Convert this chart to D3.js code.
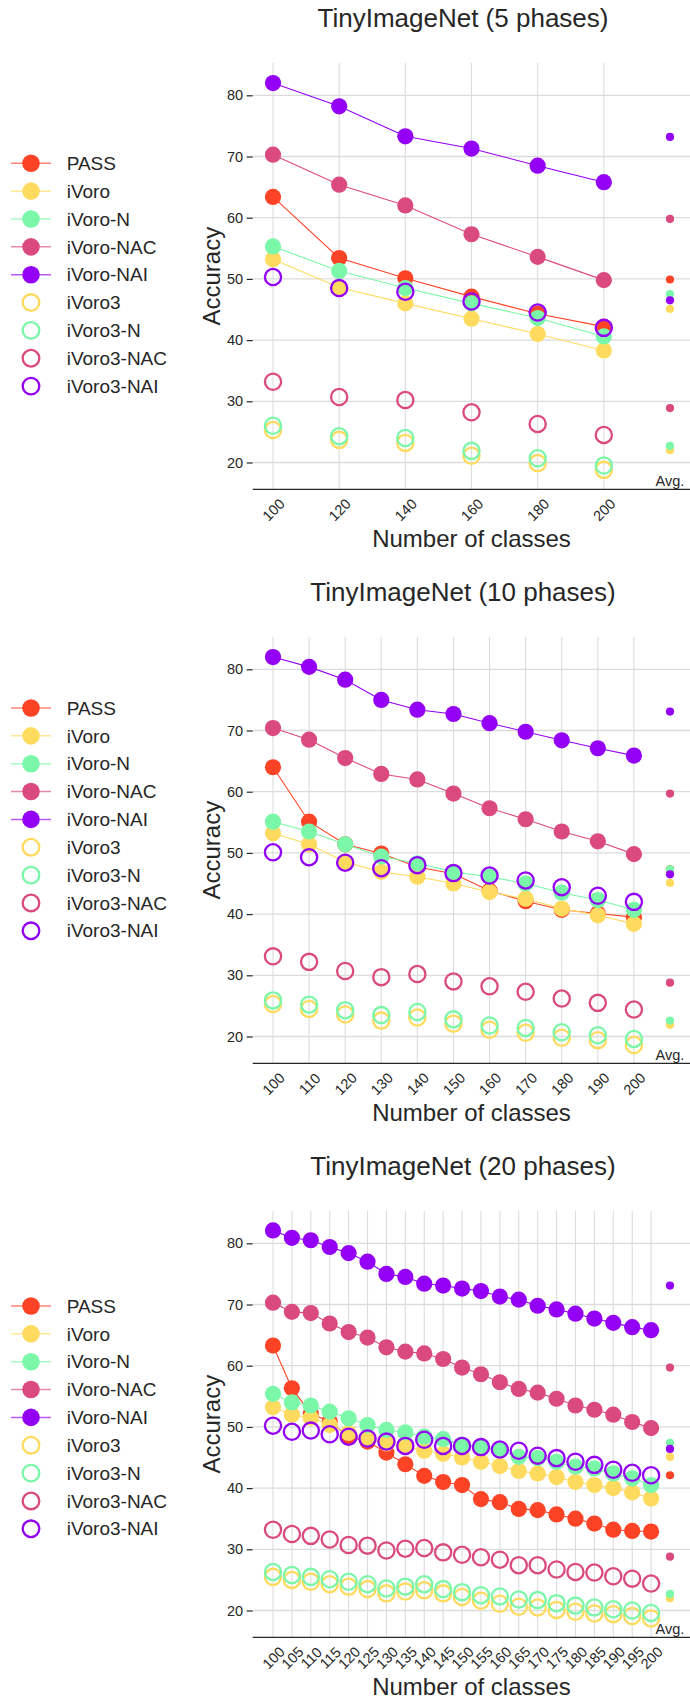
<!DOCTYPE html>
<html>
<head>
<meta charset="utf-8">
<script src="https://cdn.jsdelivr.net/npm/d3@7"></script>
<style>
  html, body { margin: 0; padding: 0; background: #ffffff; }
  svg { display: block; font-family: "Liberation Sans", Arial, Helvetica, sans-serif; }
</style>
</head>
<body>
<svg id="chart" width="690" height="1698"></svg>
<script>
// ---- series definitions -------------------------------------------------
const seriesNames = ["PASS", "iVoro", "iVoro-N", "iVoro-NAC", "iVoro-NAI",
                     "iVoro3", "iVoro3-N", "iVoro3-NAC", "iVoro3-NAI"];
const seriesColors = ["#fd4326", "#fedb5e", "#7af7a8", "#da4a7f", "#9400f6",
                      "#fedb5e", "#7af7a8", "#da4a7f", "#9400f6"];
const seriesFilled = [true, true, true, true, true, false, false, false, false];

const panelTitles = ["TinyImageNet (5 phases)", "TinyImageNet (10 phases)", "TinyImageNet (20 phases)"];
const yTickValues = [20, 30, 40, 50, 60, 70, 80];
const avgLabel = "Avg.";
const xAxisTitle = "Number of classes";
const yAxisTitle = "Accuracy";

// ---- 5 phases ------------------------------------------------------------
const classes5    = [100, 120, 140, 160, 180, 200];
const pass5       = [63.4, 53.4, 50.1, 47.1, 44.3, 42.2];
const ivoro5      = [53.2, 48.6, 46.0, 43.5, 41.0, 38.3];
const ivoroN5     = [55.3, 51.3, 48.5, 46.0, 43.6, 40.6];
const ivoroNAC5   = [70.3, 65.4, 62.0, 57.3, 53.6, 49.8];
const ivoroNAI5   = [82.0, 78.2, 73.3, 71.3, 68.5, 65.8];
const ivoro3_5    = [25.3, 23.7, 23.2, 21.1, 19.9, 18.8];
const ivoro3N5    = [26.0, 24.3, 24.0, 21.9, 20.7, 19.5];
const ivoro3NAC5  = [33.2, 30.7, 30.2, 28.2, 26.3, 24.5];
const ivoro3NAI5  = [50.3, 48.5, 47.9, 46.3, 44.5, 42.0];
const avg5        = [49.9, 45.1, 47.5, 59.8, 73.2, 22.0, 22.7, 28.9, 46.5];

// ---- 10 phases -----------------------------------------------------------
const classes10   = [100, 110, 120, 130, 140, 150, 160, 170, 180, 190, 200];
const pass10      = [64.0, 55.1, 51.4, 49.9, 47.7, 46.6, 43.8, 42.1, 40.7, 40.1, 39.5];
const ivoro10     = [53.2, 51.4, 48.5, 46.9, 46.1, 45.0, 43.6, 42.5, 40.9, 39.8, 38.4];
const ivoroN10    = [55.1, 53.5, 51.4, 49.4, 48.3, 46.9, 46.1, 45.0, 43.5, 42.3, 40.7];
const ivoroNAC10  = [70.4, 68.5, 65.5, 62.9, 62.0, 59.7, 57.3, 55.5, 53.5, 51.9, 49.8];
const ivoroNAI10  = [82.0, 80.4, 78.3, 75.0, 73.4, 72.7, 71.2, 69.8, 68.4, 67.1, 65.9];
const ivoro3_10   = [25.3, 24.5, 23.6, 22.6, 23.1, 22.1, 21.1, 20.6, 19.8, 19.4, 18.6];
const ivoro3N10   = [25.9, 25.2, 24.3, 23.5, 24.0, 22.8, 21.8, 21.4, 20.7, 20.2, 19.6];
const ivoro3NAC10 = [33.1, 32.2, 30.7, 29.7, 30.2, 29.0, 28.2, 27.3, 26.2, 25.5, 24.4];
const ivoro3NAI10 = [50.1, 49.3, 48.4, 47.5, 48.0, 46.7, 46.3, 45.5, 44.4, 43.0, 42.0];
const avg10       = [47.3, 45.1, 47.3, 59.7, 73.1, 21.9, 22.6, 28.8, 46.5];

// ---- 20 phases -----------------------------------------------------------
const classes20   = [100, 105, 110, 115, 120, 125, 130, 135, 140, 145, 150,
                     155, 160, 165, 170, 175, 180, 185, 190, 195, 200];
const pass20      = [63.3, 56.3, 52.2, 50.9, 48.4, 47.6, 45.8, 43.9, 42.0, 41.0, 40.5,
                     38.2, 37.7, 36.6, 36.4, 35.7, 35.0, 34.2, 33.2, 33.0, 32.9];
const ivoro20     = [53.2, 52.0, 51.5, 50.3, 49.0, 48.1, 47.3, 46.8, 46.1, 45.6, 45.0,
                     44.3, 43.6, 42.8, 42.4, 41.8, 41.0, 40.5, 40.0, 39.3, 38.3];
const ivoroN20    = [55.4, 54.0, 53.5, 52.5, 51.4, 50.3, 49.5, 49.1, 48.4, 48.0, 47.1,
                     46.8, 46.2, 45.1, 44.9, 44.3, 43.5, 43.2, 42.4, 41.6, 40.5];
const ivoroNAC20  = [70.3, 68.8, 68.6, 66.9, 65.5, 64.6, 63.0, 62.3, 62.0, 61.1, 59.7,
                     58.6, 57.3, 56.2, 55.6, 54.6, 53.5, 52.8, 52.0, 50.8, 49.8];
const ivoroNAI20  = [82.1, 80.9, 80.5, 79.4, 78.4, 77.0, 75.0, 74.5, 73.4, 73.1, 72.6,
                     72.2, 71.3, 70.8, 69.8, 69.2, 68.5, 67.7, 67.0, 66.3, 65.8];
const ivoro3_20   = [25.5, 25.0, 24.7, 24.3, 23.9, 23.5, 22.8, 23.1, 23.3, 22.8, 22.2,
                     21.6, 21.1, 20.6, 20.5, 20.1, 19.8, 19.5, 19.4, 19.1, 18.7];
const ivoro3N20   = [26.3, 25.8, 25.5, 25.1, 24.7, 24.3, 23.6, 23.9, 24.3, 23.5, 23.0,
                     22.5, 22.3, 21.8, 21.7, 21.2, 20.8, 20.5, 20.2, 20.0, 19.6];
const ivoro3NAC20 = [33.2, 32.5, 32.2, 31.6, 30.7, 30.6, 29.8, 30.1, 30.2, 29.5, 29.1,
                     28.7, 28.3, 27.4, 27.4, 26.7, 26.3, 26.2, 25.6, 25.2, 24.4];
const ivoro3NAI20 = [50.2, 49.2, 49.4, 48.8, 48.4, 48.1, 47.6, 46.9, 47.9, 46.9, 46.9,
                     46.7, 46.3, 46.1, 45.3, 44.9, 44.3, 43.8, 43.0, 42.5, 42.1];
const avg20       = [42.1, 45.1, 47.4, 59.7, 73.1, 22.0, 22.7, 28.8, 46.4];

// Panel table assembled from the arrays above
const panelClasses = [classes5, classes10, classes20];
const panelSeries = [
  [pass5, ivoro5, ivoroN5, ivoroNAC5, ivoroNAI5, ivoro3_5, ivoro3N5, ivoro3NAC5, ivoro3NAI5],
  [pass10, ivoro10, ivoroN10, ivoroNAC10, ivoroNAI10, ivoro3_10, ivoro3N10, ivoro3NAC10, ivoro3NAI10],
  [pass20, ivoro20, ivoroN20, ivoroNAC20, ivoroNAI20, ivoro3_20, ivoro3N20, ivoro3NAC20, ivoro3NAI20]
];
const panelAvgs = [avg5, avg10, avg20];

// ---- layout ----------------------------------------------------------------
const panelStep = 574;
const plotTop = 63, plotBottom = 489.3;
const axisLeft = 252.7, axisRight = 690;
const firstX = 273, avgX = 670;
const legendTops = [163.3, 708, 1306];
const legendStep = 27.85;
const textColor = "#262626";
const gridColor = "#dcdcdc";
const markerR = 8.1, avgR = 4.1;

const svg = d3.select("#chart");

panelTitles.forEach((title, p) => {
  const off = p * panelStep;
  const classes = panelClasses[p];
  const data = panelSeries[p];
  const avgs = panelAvgs[p];

  const x = d3.scalePoint()
    .domain([...classes.map(String), avgLabel])
    .range([firstX, avgX]);
  const y = d3.scaleLinear()
    .domain([15.62, 85.28])
    .range([plotBottom + off, plotTop + off]);

  const g = svg.append("g");

  // title
  g.append("text")
    .attr("x", 463).attr("y", 26.5 + off)
    .attr("text-anchor", "middle")
    .attr("font-size", 26).attr("fill", textColor)
    .text(title);

  // grid
  g.append("g").selectAll("line.h").data(yTickValues).join("line")
    .attr("x1", axisLeft).attr("x2", axisRight)
    .attr("y1", d => y(d)).attr("y2", d => y(d))
    .attr("stroke", gridColor).attr("stroke-width", 1.3);
  g.append("g").selectAll("line.v").data(classes).join("line")
    .attr("x1", d => x(String(d))).attr("x2", d => x(String(d)))
    .attr("y1", plotTop + off).attr("y2", plotBottom + off)
    .attr("stroke", gridColor).attr("stroke-width", 1.1);

  // y axis (ticks + labels, no spine)
  const yAxis = g.append("g")
    .attr("transform", `translate(${axisLeft},0)`)
    .call(d3.axisLeft(y).tickValues(yTickValues).tickSize(6).tickPadding(3.5));
  yAxis.select(".domain").remove();
  yAxis.selectAll(".tick line").attr("stroke", textColor).attr("stroke-width", 1.2);
  yAxis.selectAll(".tick text").attr("fill", textColor)
    .attr("font-size", 14.5).attr("font-family", "Liberation Sans, Arial, sans-serif");

  // x axis (rotated class labels)
  const xAxis = g.append("g")
    .attr("transform", `translate(0,${plotBottom + off})`)
    .call(d3.axisBottom(x).tickValues(classes.map(String)).tickSize(0));
  xAxis.select(".domain").remove();
  xAxis.selectAll(".tick text")
    .attr("y", 0).attr("dy", "0.35em")
    .attr("transform", "translate(0,20.5) rotate(-45)")
    .attr("text-anchor", "middle")
    .attr("fill", textColor)
    .attr("font-size", 14.5).attr("font-family", "Liberation Sans, Arial, sans-serif");

  // bottom spine
  g.append("line")
    .attr("x1", axisLeft).attr("x2", axisRight)
    .attr("y1", plotBottom + off).attr("y2", plotBottom + off)
    .attr("stroke", textColor).attr("stroke-width", 1.3);

  // "Avg." label
  g.append("text")
    .attr("x", x(avgLabel)).attr("y", plotBottom + off - 3.5)
    .attr("text-anchor", "middle")
    .attr("font-size", 14.5).attr("fill", textColor)
    .text(avgLabel);

  // axis titles
  g.append("text")
    .attr("x", 471.5).attr("y", 546.5 + off)
    .attr("text-anchor", "middle")
    .attr("font-size", 24).attr("fill", textColor)
    .text(xAxisTitle);
  g.append("text")
    .attr("transform", `translate(220,${(plotTop + plotBottom) / 2 + off}) rotate(-90)`)
    .attr("text-anchor", "middle")
    .attr("font-size", 24).attr("fill", textColor)
    .text(yAxisTitle);

  // series
  const line = d3.line()
    .x((d, i) => x(String(classes[i])))
    .y(d => y(d));

  data.forEach((vals, s) => {
    const sg = g.append("g");
    const col = seriesColors[s];
    if (seriesFilled[s]) {
      sg.append("path").datum(vals)
        .attr("d", line)
        .attr("fill", "none").attr("stroke", col).attr("stroke-width", 1.1);
      sg.selectAll("circle").data(vals).join("circle")
        .attr("cx", (d, i) => x(String(classes[i])))
        .attr("cy", d => y(d))
        .attr("r", markerR)
        .attr("fill", col);
    } else {
      sg.selectAll("circle").data(vals).join("circle")
        .attr("cx", (d, i) => x(String(classes[i])))
        .attr("cy", d => y(d))
        .attr("r", markerR)
        .attr("fill", "none")
        .attr("stroke", col).attr("stroke-width", 2.3);
    }
  });

  // averages
  g.append("g").selectAll("circle").data(avgs).join("circle")
    .attr("cx", x(avgLabel))
    .attr("cy", d => y(d))
    .attr("r", avgR)
    .attr("fill", (d, i) => seriesColors[i]);

  // legend
  const lg = g.append("g");
  seriesNames.forEach((name, s) => {
    const ly = legendTops[p] + s * legendStep;
    const col = seriesColors[s];
    if (seriesFilled[s]) {
      lg.append("line")
        .attr("x1", 11).attr("x2", 51).attr("y1", ly).attr("y2", ly)
        .attr("stroke", col).attr("stroke-width", 1.5).attr("stroke-opacity", 0.65);
      lg.append("circle").attr("cx", 31).attr("cy", ly).attr("r", 8.8).attr("fill", col);
    } else {
      lg.append("circle").attr("cx", 31).attr("cy", ly).attr("r", 8.3)
        .attr("fill", "none").attr("stroke", col).attr("stroke-width", 2.3);
    }
    lg.append("text")
      .attr("x", 66.7).attr("y", ly).attr("dy", "0.35em")
      .attr("font-size", 19).attr("fill", textColor)
      .text(name);
  });
});
</script>
</body>
</html>
